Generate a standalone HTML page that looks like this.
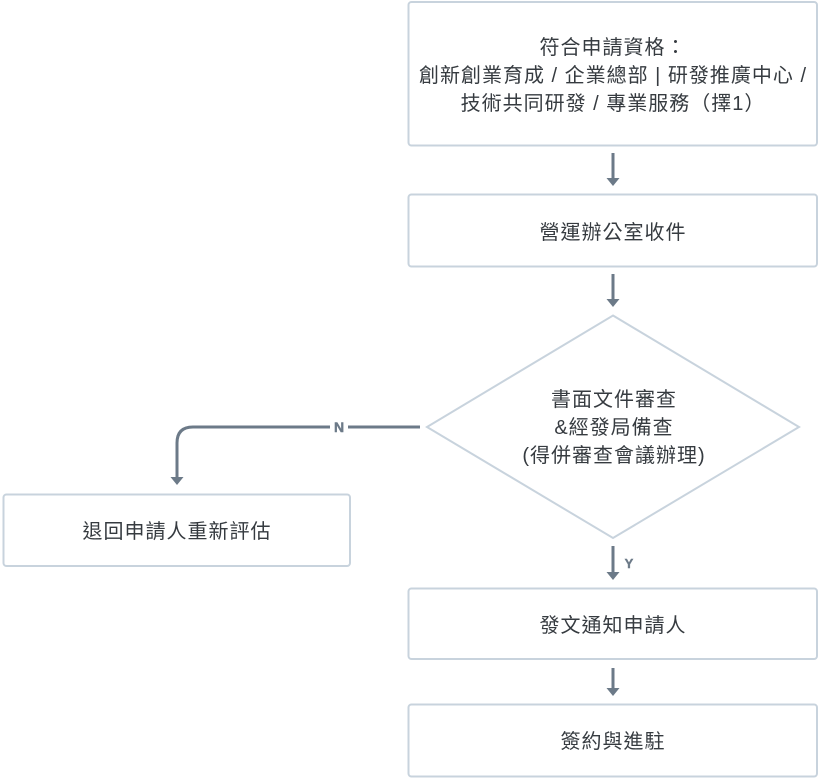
<!DOCTYPE html>
<html>
<head>
<meta charset="utf-8">
<style>
  html, body { margin: 0; padding: 0; background: #ffffff; }
  body { width: 819px; height: 778px; overflow: hidden; }
  svg { display: block; }
  .t { font-family: "Liberation Sans", "Noto Sans CJK TC", "Noto Sans CJK SC", sans-serif; font-size: 20px; fill: #363b40; letter-spacing: 1px; text-anchor: middle; }
  .lbl { font-family: "Liberation Sans", sans-serif; font-weight: bold; fill: #6c7a88; stroke: #6c7a88; stroke-width: 0.4px; text-anchor: middle; }
</style>
</head>
<body>
<svg width="819" height="778" viewBox="0 0 819 778" xmlns="http://www.w3.org/2000/svg">
  <g fill="#ffffff" stroke="#c8d3dd" stroke-width="2">
    <rect x="408.5" y="2" width="408.5" height="143.5" rx="3"/>
    <rect x="408.5" y="194.5" width="408.5" height="72" rx="3"/>
    <polygon points="613,315.5 799,427 613,538 427,427"/>
    <rect x="3.5" y="494.5" width="346.5" height="71.5" rx="3"/>
    <rect x="408.5" y="588.5" width="408.5" height="70.5" rx="3"/>
    <rect x="408.5" y="704.5" width="408.5" height="72" rx="3"/>
  </g>

  <g stroke="#6c7a88" stroke-width="3" fill="none">
    <line x1="613" y1="153" x2="613" y2="179"/>
    <line x1="613" y1="274" x2="613" y2="300"/>
    <line x1="613" y1="546" x2="613" y2="573"/>
    <line x1="613" y1="668" x2="613" y2="689"/>
    <path d="M420,427 L348,427"/>
    <path d="M330,427 L193,427 Q177,427 177,443 L177,478"/>
  </g>
  <g fill="#6c7a88">
    <polygon points="606.5,178 619.5,178 613,186"/>
    <polygon points="606.5,299 619.5,299 613,307"/>
    <polygon points="606.5,572 619.5,572 613,580"/>
    <polygon points="606.5,688 619.5,688 613,696"/>
    <polygon points="170.5,477 183.5,477 177,485"/>
  </g>
  <text class="lbl" x="339" y="432" style="font-size:14px">N</text>
  <text class="lbl" x="629" y="568" style="font-size:13px">Y</text>

  <text class="t" x="613" y="54">符合申請資格：</text>
  <text class="t" x="613" y="82">創新創業育成 / 企業總部 | 研發推廣中心 /</text>
  <text class="t" x="613" y="110">技術共同研發 / 專業服務（擇1）</text>

  <text class="t" x="613" y="239">營運辦公室收件</text>

  <text class="t" x="614" y="406">書面文件審查</text>
  <text class="t" x="614" y="434">&amp;經發局備查</text>
  <text class="t" x="614" y="462">(得併審查會議辦理)</text>

  <text class="t" x="177" y="538">退回申請人重新評估</text>

  <text class="t" x="613" y="632">發文通知申請人</text>

  <text class="t" x="613" y="748">簽約與進駐</text>
</svg>
</body>
</html>
